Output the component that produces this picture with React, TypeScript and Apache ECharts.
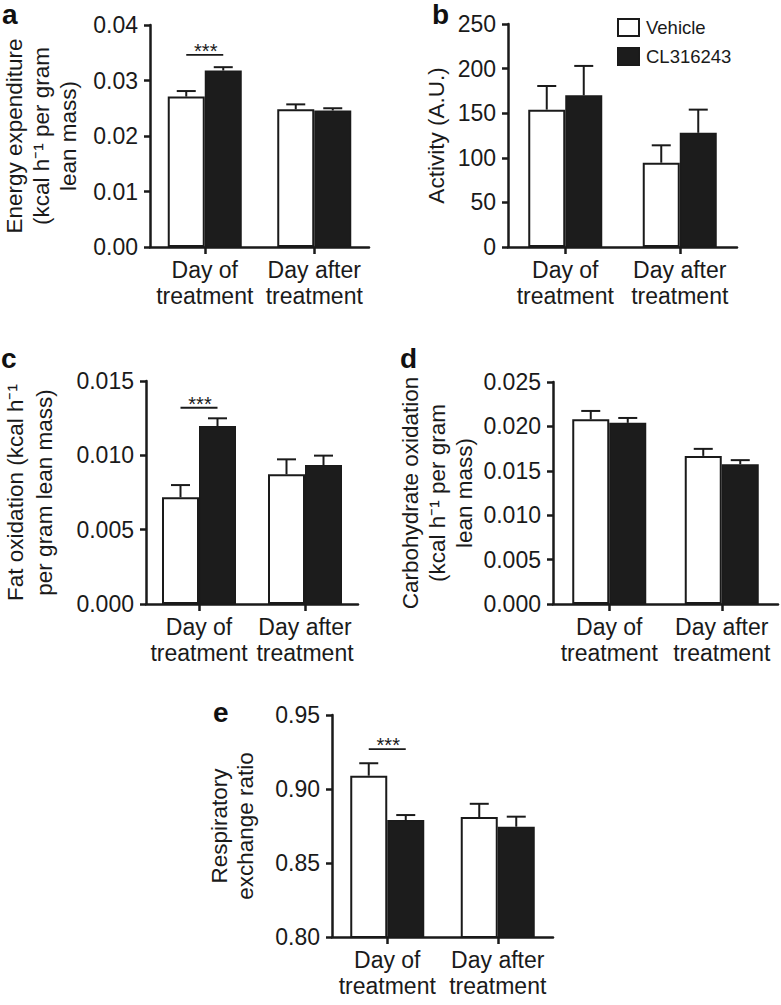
import React, { useEffect, useRef } from "react";
import * as echarts from "echarts";

const FONT = '"Liberation Sans", Arial, Helvetica, sans-serif';
const INK = "#1a1a1a";

const categories = ["Day of\ntreatment", "Day after\ntreatment"];

// a: energy expenditure
const aVehicle = [0.0271, 0.0248];
const aVehicleSem = [0.001, 0.0009];
const aCL = [0.0318, 0.0246];
const aCLSem = [0.0006, 0.0004];
const aSig = 0.0346;

// b: activity
const bVehicle = [154, 94.5];
const bVehicleSem = [26.5, 19.5];
const bCL = [170, 128];
const bCLSem = [33, 26];

// c: fat oxidation
const cVehicle = [0.00718, 0.00872];
const cVehicleSem = [0.00082, 0.00101];
const cCL = [0.01197, 0.00935];
const cCLSem = [0.00052, 0.00063];
const cSig = 0.0132;

// d: carbohydrate oxidation
const dVehicle = [0.0208, 0.01668];
const dVehicleSem = [0.00094, 0.00079];
const dCL = [0.0204, 0.01574];
const dCLSem = [0.00055, 0.00046];

// e: respiratory exchange ratio
const eVehicle = [0.909, 0.881];
const eVehicleSem = [0.0084, 0.009];
const eCL = [0.879, 0.8745];
const eCLSem = [0.0034, 0.0068];
const eSig = 0.927;

const BAR_W = 37;

type Panel = {
  grid: any;
  yMin: number;
  yMax: number;
  yInt: number;
  dec: number;
  yName: string;
  nameGap: number;
  nameLH: number;
  veh: number[];
  vehSem: number[];
  cl: number[];
  clSem: number[];
  sig?: number;
};

const panels: Panel[] = [
  { grid: { left: 145, top: 25, width: 224, height: 222 }, yMin: 0, yMax: 0.04, yInt: 0.01, dec: 2,
    yName: "Energy expenditure\n(kcal h\u207B\u00B9 per gram\nlean mass)", nameGap: 68, nameLH: 27,
    veh: aVehicle, vehSem: aVehicleSem, cl: aCL, clSem: aCLSem, sig: aSig },
  { grid: { left: 508, top: 24, width: 229, height: 223 }, yMin: 0, yMax: 250, yInt: 50, dec: 0,
    yName: "Activity (A.U.)", nameGap: 58, nameLH: 27,
    veh: bVehicle, vehSem: bVehicleSem, cl: bCL, clSem: bCLSem },
  { grid: { left: 135, top: 381, width: 223, height: 223 }, yMin: 0, yMax: 0.015, yInt: 0.005, dec: 3,
    yName: "Fat oxidation (kcal h\u207B\u00B9\nper gram lean mass)", nameGap: 87, nameLH: 29,
    veh: cVehicle, vehSem: cVehicleSem, cl: cCL, clSem: cCLSem, sig: cSig },
  { grid: { left: 553, top: 382, width: 225, height: 222 }, yMin: 0, yMax: 0.025, yInt: 0.005, dec: 3,
    yName: "Carbohydrate oxidation\n(kcal h\u207B\u00B9 per gram\nlean mass)", nameGap: 75, nameLH: 27,
    veh: dVehicle, vehSem: dVehicleSem, cl: dCL, clSem: dCLSem },
  { grid: { left: 332, top: 715, width: 221, height: 222 }, yMin: 0.8, yMax: 0.95, yInt: 0.05, dec: 2,
    yName: "Respiratory\nexchange ratio", nameGap: 74, nameLH: 26,
    veh: eVehicle, vehSem: eVehicleSem, cl: eCL, clSem: eCLSem, sig: eSig },
];

const letters = [
  { t: "a", x: 2, y: 24.5 },
  { t: "b", x: 432, y: 24.5 },
  { t: "c", x: 1, y: 368 },
  { t: "d", x: 400, y: 368 },
  { t: "e", x: 213, y: 722 },
];

function errRender(dx: number) {
  return (params: any, api: any) => {
    const i = api.value(0);
    const mean = api.value(1);
    const top = api.value(2);
    const p0 = api.coord([i, mean]);
    const p1 = api.coord([i, top]);
    const x = p0[0] + dx;
    const style = { stroke: INK, lineWidth: 2 };
    return {
      type: "group",
      children: [
        { type: "line", shape: { x1: x, y1: p0[1], x2: x, y2: p1[1] }, style },
        { type: "line", shape: { x1: x - 9.5, y1: p1[1], x2: x + 9.5, y2: p1[1] }, style },
      ],
    };
  };
}

function sigRender(params: any, api: any) {
  const i = api.value(0);
  const v = api.value(1);
  const p = api.coord([i, v]);
  return {
    type: "group",
    children: [
      { type: "line", shape: { x1: p[0] - BAR_W / 2, y1: p[1], x2: p[0] + BAR_W / 2, y2: p[1] },
        style: { stroke: INK, lineWidth: 1.8 } },
      { type: "text", x: p[0] + 1, y: p[1] - 4,
        style: { text: "***", fill: INK, font: `20px ${FONT}`, align: "center", verticalAlign: "middle" } },
    ],
  };
}

function buildOption() {
  const grid: any[] = [];
  const xAxis: any[] = [];
  const yAxis: any[] = [];
  const series: any[] = [];
  panels.forEach((p, k) => {
    grid.push({ ...p.grid, containLabel: false });
    xAxis.push({
      type: "category",
      gridIndex: k,
      data: categories,
      axisLine: { lineStyle: { color: INK, width: 2.5 } },
      axisTick: { show: true, alignWithLabel: true, length: 7, lineStyle: { color: INK, width: 2.5 } },
      axisLabel: { color: INK, fontSize: 23, fontFamily: FONT, lineHeight: 26, margin: 10, interval: 0 },
      splitLine: { show: false },
    });
    yAxis.push({
      type: "value",
      gridIndex: k,
      min: p.yMin,
      max: p.yMax,
      interval: p.yInt,
      name: p.yName,
      nameLocation: "middle",
      nameRotate: 90,
      nameGap: p.nameGap,
      nameTextStyle: { color: INK, fontSize: 22.5, fontFamily: FONT, lineHeight: p.nameLH, align: "center" },
      axisLine: { show: true, lineStyle: { color: INK, width: 2.5 } },
      axisTick: { show: true, length: 6, lineStyle: { color: INK, width: 2.5 } },
      axisLabel: {
        color: INK, fontSize: 23, fontFamily: FONT, margin: 12,
        formatter: (v: number) => v.toFixed(p.dec),
      },
      splitLine: { show: false },
    });
    series.push({
      type: "bar", name: "Vehicle", xAxisIndex: k, yAxisIndex: k, data: p.veh,
      barWidth: BAR_W, barGap: "0%",
      itemStyle: { color: "#ffffff", borderColor: INK, borderWidth: 2 },
    });
    series.push({
      type: "bar", name: "CL316243", xAxisIndex: k, yAxisIndex: k, data: p.cl,
      barWidth: BAR_W, barGap: "0%",
      itemStyle: { color: "#1c1c1c", borderColor: INK, borderWidth: 1.5 },
    });
    series.push({
      type: "custom", xAxisIndex: k, yAxisIndex: k, z: 5,
      renderItem: errRender(-BAR_W / 2),
      data: p.veh.map((m, i) => [i, m, m + p.vehSem[i]]),
    });
    series.push({
      type: "custom", xAxisIndex: k, yAxisIndex: k, z: 5,
      renderItem: errRender(BAR_W / 2),
      data: p.cl.map((m, i) => [i, m, m + p.clSem[i]]),
    });
    if (p.sig !== undefined) {
      series.push({
        type: "custom", xAxisIndex: k, yAxisIndex: k, z: 5,
        renderItem: sigRender,
        data: [[0, p.sig]],
      });
    }
  });

  return {
    animation: false,
    backgroundColor: "#ffffff",
    textStyle: { fontFamily: FONT },
    grid,
    xAxis,
    yAxis,
    series,
    legend: {
      data: ["Vehicle", "CL316243"],
      orient: "vertical",
      left: 617,
      top: 18,
      padding: 0,
      itemWidth: 21,
      itemHeight: 17,
      itemGap: 10,
      icon: "rect",
      selectedMode: false,
      textStyle: { color: INK, fontSize: 18.5, fontFamily: FONT, padding: [0, 0, 0, 2] },
    },
    graphic: letters.map((l) => ({
      type: "text",
      x: l.x,
      y: l.y - 9.7,
      style: { text: l.t, fill: "#111", font: `bold 28px ${FONT}`, verticalAlign: "middle", align: "left" },
    })),
  };
}

export default function App() {
  const ref = useRef<HTMLDivElement>(null);
  useEffect(() => {
    if (!ref.current) return;
    const chart = echarts.init(ref.current, undefined, { renderer: "svg" });
    chart.setOption(buildOption() as any);
    return () => chart.dispose();
  }, []);
  return (
    <div
      ref={ref}
      style={{ position: "fixed", left: 0, top: 0, width: 781, height: 1005, background: "#fff" }}
    />
  );
}
